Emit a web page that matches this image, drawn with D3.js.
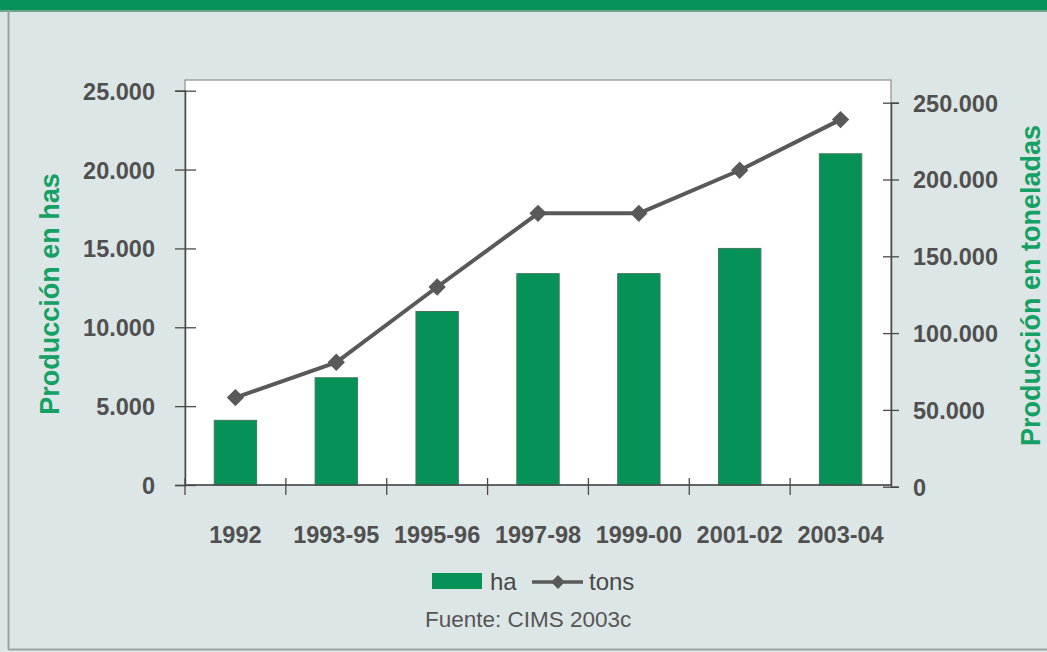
<!DOCTYPE html>
<html>
<head>
<meta charset="utf-8">
<script src="https://cdn.jsdelivr.net/npm/d3@7"></script>
<style>
  html, body { margin: 0; padding: 0; background: #dde6e6; }
  svg { display: block; font-family: Arial, "Liberation Sans", Helvetica, sans-serif; }
</style>
</head>
<body>
<svg id="chart" width="1047" height="652"></svg>
<script>
// Production periods
const categories = ["1992", "1993-95", "1995-96", "1997-98", "1999-00", "2001-02", "2003-04"];
// Area in hectares (bars, left axis)
const hectares = [4100, 6800, 11000, 13400, 13400, 15000, 21000];
// Output in tonnes (line, right axis)
const tonnes = [58000, 81000, 130000, 178000, 178000, 206000, 239000];
// Axis ticks
const leftTicks = [0, 5000, 10000, 15000, 20000, 25000];
const rightTicks = [0, 50000, 100000, 150000, 200000, 250000];

const W = 1047, H = 652;
const plot = { left: 185, right: 891, top: 80, bottom: 485 };

const esFormat = d3.formatLocale({ decimal: ",", thousands: ".", grouping: [3], currency: ["", ""] }).format(",d");

const svg = d3.select("#chart");

// page background, banner and frame
svg.append("rect").attr("width", W).attr("height", H).attr("fill", "#dde6e6");
svg.append("rect").attr("x", 0).attr("y", 0).attr("width", W).attr("height", 10).attr("fill", "#06925a");
svg.append("rect").attr("x", 0).attr("y", 10).attr("width", W).attr("height", 2).attr("fill", "#6fa58c");
svg.append("line").attr("x1", 8.5).attr("x2", 8.5).attr("y1", 10).attr("y2", 649)
  .attr("stroke", "#9aa3a2").attr("stroke-width", 2);
svg.append("line").attr("x1", 8).attr("x2", W).attr("y1", 649.5).attr("y2", 649.5)
  .attr("stroke", "#9aa3a2").attr("stroke-width", 2);

// plot area
svg.append("rect")
  .attr("x", plot.left).attr("y", plot.top)
  .attr("width", plot.right - plot.left).attr("height", plot.bottom - plot.top)
  .attr("fill", "#ffffff").attr("stroke", "#8a9090").attr("stroke-width", 1.2);

// scales
const x = d3.scaleBand().domain(categories).range([plot.left, plot.right])
  .paddingInner(0.58).paddingOuter(0.29);
const yL = d3.scaleLinear().domain([0, 25000]).range([plot.bottom, 90.7]);
const yR = d3.scaleLinear().domain([0, 250000]).range([486.7, 102.7]);

// bars
svg.append("g").selectAll("rect").data(categories).join("rect")
  .attr("x", d => x(d))
  .attr("y", (d, i) => yL(hectares[i]))
  .attr("width", x.bandwidth())
  .attr("height", (d, i) => yL(0) - yL(hectares[i]))
  .attr("fill", "#069157")
  .attr("stroke", "#3f7a5e").attr("stroke-width", 1);

// left axis
const gL = svg.append("g").attr("transform", `translate(${plot.left},0)`)
  .call(d3.axisLeft(yL).tickValues(leftTicks).tickFormat(esFormat).tickSize(10).tickPadding(20));
gL.select(".domain").attr("stroke", "#4a4a4a").attr("stroke-width", 1.5);
gL.selectAll(".tick line").attr("x1", 11).attr("stroke", "#4a4a4a").attr("stroke-width", 1.3);
gL.selectAll(".tick text").attr("fill", "#505050").attr("font-size", 23.5).attr("font-weight", "bold")
  .attr("font-family", "Arial, 'Liberation Sans', sans-serif").attr("dy", "0.36em");

// right axis
const gR = svg.append("g").attr("transform", `translate(${plot.right},0)`)
  .call(d3.axisRight(yR).tickValues(rightTicks).tickFormat(esFormat).tickSize(8).tickPadding(14));
gR.select(".domain").attr("stroke", "#4a4a4a").attr("stroke-width", 1.5);
gR.selectAll(".tick line").attr("x1", -8).attr("stroke", "#4a4a4a").attr("stroke-width", 1.3);
gR.selectAll(".tick text").attr("fill", "#505050").attr("font-size", 23.5).attr("font-weight", "bold")
  .attr("font-family", "Arial, 'Liberation Sans', sans-serif").attr("dy", "0.36em");

// category axis: ticks on band boundaries, labels under bars
const gB = svg.append("g");
gB.append("line").attr("x1", plot.left).attr("x2", plot.right)
  .attr("y1", plot.bottom).attr("y2", plot.bottom)
  .attr("stroke", "#4a4a4a").attr("stroke-width", 1.5);
const bounds = d3.range(categories.length).map(i => x.range()[0] + i * x.step());
gB.selectAll("line.tk").data(bounds).join("line").attr("class", "tk")
  .attr("x1", d => d).attr("x2", d => d)
  .attr("y1", plot.bottom - 7).attr("y2", plot.bottom + 10)
  .attr("stroke", "#4a4a4a").attr("stroke-width", 1.3);
gB.selectAll("text").data(categories).join("text")
  .attr("x", d => x(d) + x.bandwidth() / 2)
  .attr("y", 543)
  .attr("text-anchor", "middle")
  .attr("font-size", 23.5).attr("font-weight", "bold").attr("fill", "#505050")
  .text(d => d);

// tonnes line with diamond markers
const line = d3.line().x((d, i) => x(categories[i]) + x.bandwidth() / 2).y(d => yR(d));
svg.append("path").datum(tonnes).attr("d", line)
  .attr("fill", "none").attr("stroke", "#595959").attr("stroke-width", 4).attr("stroke-linejoin", "round");
const diamond = d3.symbol().type(d3.symbolSquare).size(150);
svg.append("g").selectAll("path").data(tonnes).join("path")
  .attr("d", diamond)
  .attr("transform", (d, i) => `translate(${x(categories[i]) + x.bandwidth() / 2},${yR(d)}) rotate(45)`)
  .attr("fill", "#595959");

// axis titles
svg.append("text")
  .attr("transform", `translate(59,${(170 + 418) / 2}) rotate(-90)`)
  .attr("text-anchor", "middle").attr("font-size", 27).attr("font-weight", "bold").attr("fill", "#15a064")
  .text("Producción en has");
svg.append("text")
  .attr("transform", `translate(1040,${(123 + 448) / 2}) rotate(-90)`)
  .attr("text-anchor", "middle").attr("font-size", 27).attr("font-weight", "bold").attr("fill", "#15a064")
  .text("Producción en toneladas");

// legend
const lg = svg.append("g");
lg.append("rect").attr("x", 432).attr("y", 573).attr("width", 50).attr("height", 16).attr("fill", "#069157");
lg.append("text").attr("x", 490).attr("y", 590).attr("font-size", 24).attr("fill", "#484848").text("ha");
lg.append("line").attr("x1", 532).attr("x2", 583).attr("y1", 582).attr("y2", 582)
  .attr("stroke", "#595959").attr("stroke-width", 3.5);
lg.append("path").attr("d", d3.symbol().type(d3.symbolSquare).size(95)())
  .attr("transform", "translate(558,582) rotate(45)").attr("fill", "#595959");
lg.append("text").attr("x", 589).attr("y", 590).attr("font-size", 24).attr("fill", "#484848").text("tons");

// source note
svg.append("text").attr("x", 425).attr("y", 627).attr("font-size", 22.5).attr("fill", "#555555")
  .text("Fuente: CIMS 2003c");
</script>
</body>
</html>
